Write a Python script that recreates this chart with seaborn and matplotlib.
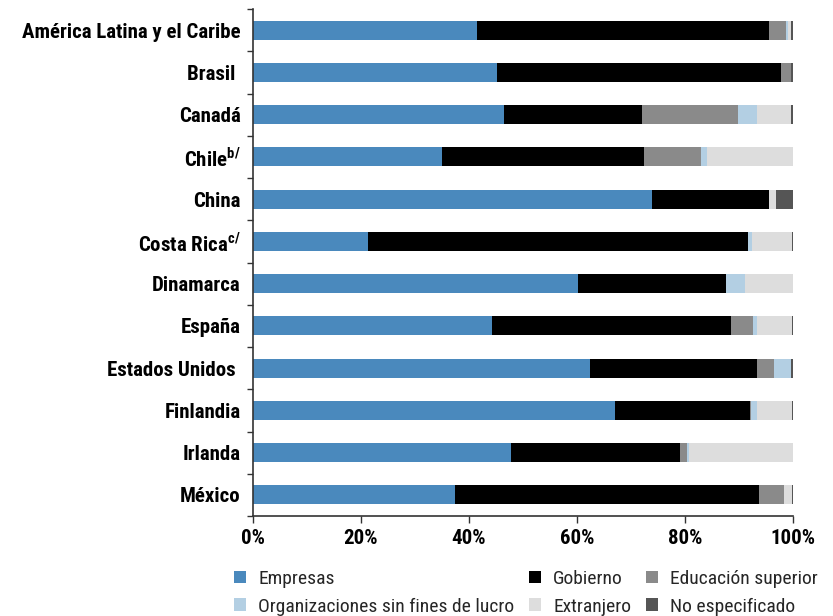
import numpy as np
import pandas as pd
import matplotlib
matplotlib.use("Agg")
import matplotlib.pyplot as plt
from matplotlib.patches import Patch
from matplotlib import font_manager as fm
import seaborn as sns

paises = ["América Latina y el Caribe", "Brasil ", "Canadá", "Chile$^{\\mathregular{b/}}$", "China",
          "Costa Rica$^{\\mathregular{c/}}$", "Dinamarca", "España", "Estados Unidos ", "Finlandia",
          "Irlanda", "México"]
empresas      = [41.5, 45.2, 46.5, 35.0, 73.8, 21.3, 60.2, 44.3, 62.4, 67.0, 47.8, 37.4]
gobierno      = [54.1, 52.6, 25.6, 37.4, 21.8, 70.4, 27.4, 44.3, 30.9, 25.0, 31.3, 56.3]
educacion     = [3.1, 1.9, 17.7, 10.5, 0.0, 0.0, 0.0, 4.0, 3.2, 0.2, 1.3, 4.6]
organizaciones = [0.3, 0.0, 3.5, 1.2, 0.0, 0.7, 3.6, 0.7, 3.2, 1.1, 0.3, 0.1]
extranjero    = [0.7, 0.0, 6.4, 15.9, 1.2, 7.4, 8.8, 6.5, 0.0, 6.5, 19.3, 1.4]
no_especificado = [0.3, 0.3, 0.3, 0.0, 3.2, 0.2, 0.0, 0.2, 0.3, 0.2, 0.0, 0.2]

series = ["Empresas", "Gobierno", "Educación superior", "Organizaciones sin fines de lucro",
          "Extranjero", "No especificado"]
colores = ["#4a89bd", "#000000", "#8a8a8a", "#b3cfe3", "#dddddd", "#555555"]
valores = [empresas, gobierno, educacion, organizaciones, extranjero, no_especificado]

available = {f.name for f in fm.fontManager.ttflist}
fam = next((f for f in ["Roboto Condensed", "Archivo Narrow", "PT Sans Narrow",
                        "Barlow Condensed", "Sofia Sans Condensed"] if f in available), "DejaVu Sans")

sns.set_style("white")
plt.rcParams['font.family'] = [fam, 'DejaVu Sans']
plt.rcParams['mathtext.fontset'] = 'custom'
plt.rcParams['mathtext.rm'] = fam + ':bold'

fig = plt.figure(figsize=(8.33, 6.16), dpi=100)
ax = fig.add_axes([253/833, 100/616, 540/833, 507/616])

cum = np.cumsum(np.array(valores), axis=0)
df_base = pd.DataFrame({"pais": paises})
for i in range(len(series) - 1, -1, -1):
    d = df_base.copy()
    d["v"] = cum[i]
    sns.barplot(data=d, x="v", y="pais", color=colores[i], orient="h", width=0.45,
                ax=ax, saturation=1, edgecolor="none", linewidth=0)

ax.set_xlim(0, 100)
ax.set_ylim(11.5, -0.5)
ax.set_xticks([0, 20, 40, 60, 80, 100])
ax.set_xticklabels(["0%", "20%", "40%", "60%", "80%", "100%"])
ax.set_xlabel("")
ax.set_ylabel("")
ax.set_yticks(range(len(paises)))
ax.set_yticklabels(paises)
ax.set_yticks(np.arange(-0.5, 12, 1), minor=True)
ax.tick_params(axis="y", which="major", length=0, pad=9, labelsize=15, labelcolor="#000000")
ax.tick_params(axis="y", which="minor", length=4, width=1, color="#333333", direction="out", left=True)
ax.tick_params(axis="x", length=5, width=1, color="#333333", direction="out", bottom=True,
               labelsize=15, pad=4, labelcolor="#000000")
for lab in ax.get_yticklabels() + ax.get_xticklabels():
    lab.set_fontweight("bold")
for s in ["top", "right"]:
    ax.spines[s].set_visible(False)
for s in ["left", "bottom"]:
    ax.spines[s].set_color("#333333")
    ax.spines[s].set_linewidth(1.2)

handles = [Patch(facecolor=c, edgecolor="none") for c in colores]
order = [0, 3, 1, 4, 2, 5]
fig.legend([handles[i] for i in order], [series[i] for i in order], ncol=3,
           loc="upper left", bbox_to_anchor=(228/833, 1 - 564/616), frameon=False,
           fontsize=14, handlelength=0.65, handleheight=0.65, handletextpad=0.6,
           columnspacing=0.75, labelspacing=0.5, borderaxespad=0, borderpad=0.3)

fig.savefig("out.png", dpi=100)
